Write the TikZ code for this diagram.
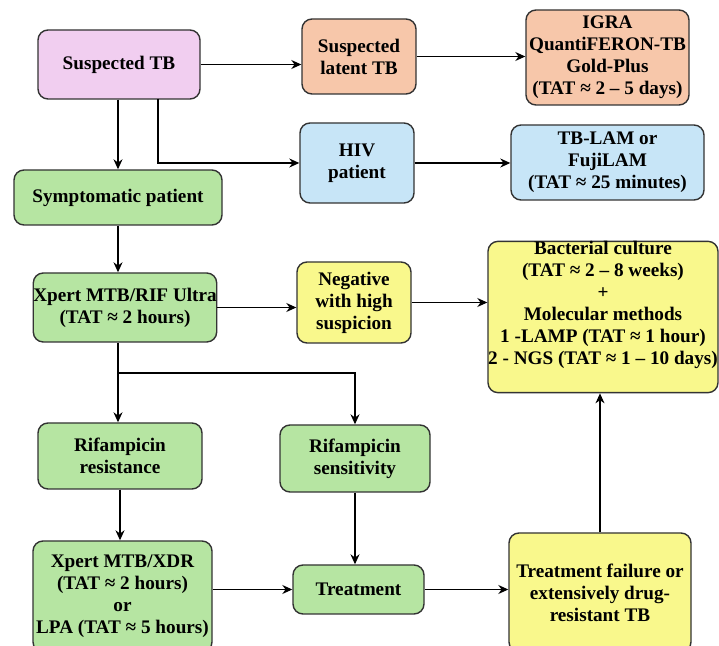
\documentclass[tikz,border=0pt]{standalone}
\usepackage{fontspec}
\usepackage{xcolor}
\setmainfont{Liberation Serif}
\usetikzlibrary{positioning, arrows.meta}

\definecolor{tbpink}{RGB}{241,206,240}
\definecolor{tbsalmon}{RGB}{247,199,170}
\definecolor{tbblue}{RGB}{199,229,247}
\definecolor{tbgreen}{RGB}{182,229,162}
\definecolor{tbyellow}{RGB}{249,248,140}

\begin{document}
\begin{tikzpicture}[x=0.5pt, y=-0.5pt, >={Stealth[length=5pt, width=4.5pt]},
        box/.style={draw=black!80, line width=0.7pt, rounded corners=5pt, align=center,
                    inner sep=0pt, font=\fontsize{9.6}{11}\selectfont\bfseries},
        link/.style={->, line width=0.6pt}]
        \useasboundingbox (0,0) rectangle (719,646);

        % Top row
        \node[box, fill=tbpink, minimum width=81pt, minimum height=34.5pt] (susTB) at (119,64.5) {Suspected TB};
        \node[box, fill=tbsalmon, minimum width=57pt, minimum height=37.5pt] (latent) at (359,56.5) {Suspected\\latent TB};
        \node[box, fill=tbsalmon, minimum width=81.5pt, minimum height=47.5pt] (igra) at (607.5,57.5) {IGRA\\QuantiFERON-TB\\Gold-Plus\\(TAT ≈ 2 – 5 days)};

        % HIV row
        \node[box, fill=tbblue, minimum width=57pt, minimum height=40pt] (hiv) at (357,163) {HIV\\patient};
        \node[box, fill=tbblue, minimum width=96.5pt, minimum height=37.5pt] (lam) at (607.5,162.5) {TB-LAM or\\FujiLAM\\(TAT ≈ 25 minutes)};
        \node[box, fill=tbgreen, minimum width=104pt, minimum height=27.5pt] (sympt) at (118,197.5) {Symptomatic patient};

        % Xpert row
        \node[box, fill=tbgreen, minimum width=89pt, minimum height=34.5pt] (xpert) at (125,307.5) {Xpert MTB/RIF Ultra\\(TAT ≈ 2 hours)};
        \node[box, fill=tbyellow, minimum width=57pt, minimum height=40.5pt] (neg) at (354,302.5) {Negative\\with high\\suspicion};
        \node[box, fill=tbyellow, minimum width=115pt, minimum height=75pt] (cult) at (603,317) {Bacterial culture\\(TAT ≈ 2 – 8 weeks)\\+\\Molecular methods\\1 -LAMP (TAT ≈ 1 hour)\\2 - NGS (TAT ≈ 1 – 10 days)\\[3pt]};

        % Rifampicin row
        \node[box, fill=tbgreen, minimum width=82pt, minimum height=33pt] (rifres) at (120,456) {Rifampicin\\resistance};
        \node[box, fill=tbgreen, minimum width=75pt, minimum height=33.5pt] (rifsen) at (355,458.5) {Rifampicin\\sensitivity};

        % Bottom row
        \node[box, fill=tbgreen, minimum width=89.5pt, minimum height=55.5pt] (xdr) at (122.5,596.5) {Xpert MTB/XDR\\(TAT ≈ 2 hours)\\or\\LPA (TAT ≈ 5 hours)};
        \node[box, fill=tbgreen, minimum width=65.5pt, minimum height=24.5pt] (treat) at (358.5,589.5) {Treatment};
        \node[box, fill=tbyellow, minimum width=91pt, minimum height=59.5pt] (fail) at (600,592.5) {Treatment failure or\\extensively drug-\\resistant TB};

        % Branch points
        \coordinate (hivbr) at (158,99);
        \coordinate (split) at (118,373);

        % Connections
        \draw[link] (susTB.east) -- (susTB.east -| latent.west);
        \draw[link] (latent.east) -- (latent.east -| igra.west);
        \draw[link] (hivbr) |- (hiv.west);
        \draw[link] (hiv.east) -- (hiv.east -| lam.west);
        \draw[link] (susTB.south -| sympt.north) -- (sympt.north);
        \draw[link] (sympt.south) -- (sympt.south |- xpert.north);
        \draw[link] (xpert.east) -- (xpert.east -| neg.west);
        \draw[link] (neg.east) -- (neg.east -| cult.west);
        \draw[line width=0.6pt] (split |- xpert.south) -- (split);
        \draw[link] (split) -- (split |- rifres.north);
        \draw[link] (split) -| (rifsen.north);
        \draw[link] (rifres.south) -- (rifres.south |- xdr.north);
        \draw[link] (rifsen.south) -- (rifsen.south |- treat.north);
        \draw[link] (xdr.east |- treat.west) -- (treat.west);
        \draw[link] (treat.east) -- (treat.east -| fail.west);
        \draw[link] (fail.north) -- (fail.north |- cult.south);
\end{tikzpicture}
\end{document}
